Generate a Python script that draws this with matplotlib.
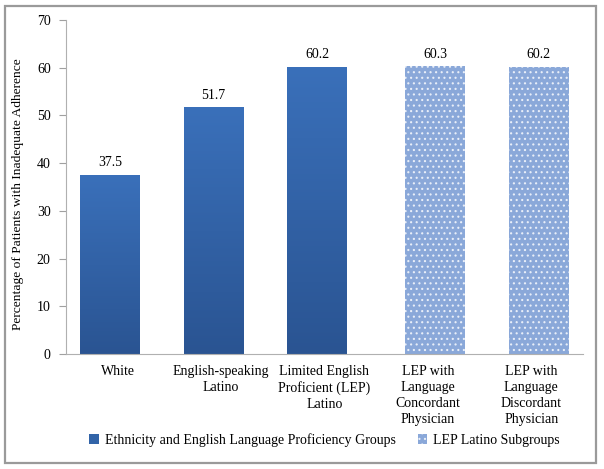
import matplotlib.pyplot as plt
from matplotlib.patches import Rectangle
import numpy as np

categories = ['White', 'English-speaking\nLatino', 'Limited English\nProficient (LEP)\nLatino',
              'LEP with\nLanguage\nConcordant\nPhysician', 'LEP with\nLanguage\nDiscordant\nPhysician']
group_names = ['Ethnicity and English Language Proficiency Groups', 'LEP Latino Subgroups']
group_values = [37.5, 51.7, 60.2]
subgroup_values = [60.3, 60.2]
y_ticks = [0, 10, 20, 30, 40, 50, 60, 70]

plt.rcParams['font.family'] = ['Liberation Serif', 'DejaVu Serif']
plt.rcParams['hatch.linewidth'] = 0.8

fig = plt.figure(figsize=(6.04, 4.69), dpi=100)
ax = fig.add_axes([0.1093, 0.2452, 0.8559, 0.7122])

# outer frame like the original image
fig.patches.append(Rectangle((0.009, 0.013), 0.977, 0.975, transform=fig.transFigure,
                             fill=False, edgecolor='#9a9a9a', linewidth=1.6))

width = 0.58
offset = 0.073
x1 = np.arange(len(group_values)) - offset
x2 = np.arange(len(group_values), len(categories)) + offset

bars1 = ax.bar(x1, group_values, width, color='#3264a8', linewidth=0, label=group_names[0])
bars2 = ax.bar(x2, subgroup_values, width, color='#8aa8d9', edgecolor='#e8eef8', hatch='...',
               linewidth=0, label=group_names[1])

# vertical gradient on the solid bars
grad = np.linspace(0, 1, 256).reshape(-1, 1)
cmap = plt.matplotlib.colors.LinearSegmentedColormap.from_list('g', ['#2a5492', '#3a70ba'])
for b in bars1:
    x0, w, h = b.get_x(), b.get_width(), b.get_height()
    im = ax.imshow(grad, extent=[x0, x0 + w, 0, h], origin='lower', cmap=cmap,
                   aspect='auto', zorder=b.get_zorder() + 0.1)
    im.set_clip_path(b)

for b in list(bars1) + list(bars2):
    ax.text(b.get_x() + b.get_width() / 2, b.get_height() + 1.2, f'{b.get_height():.1f}',
            ha='center', va='bottom', fontsize=10)

ax.set_xlim(-0.5, len(categories) - 0.5)
ax.set_ylim(0, 70)
ax.set_yticks(y_ticks)
ax.set_xticks(range(len(categories)))
ax.set_xticklabels(categories, fontsize=10, linespacing=1.3)
ax.tick_params(axis='x', length=0, pad=8)
ax.tick_params(axis='y', length=5, color='#a0a0a0', labelsize=10, pad=6)
ax.set_ylabel('Percentage of Patients with Inadequate Adherence', fontsize=9.7, labelpad=10)
ax.yaxis.set_label_coords(-0.082, 0.48)

for s in ['top', 'right']:
    ax.spines[s].set_visible(False)
for s in ['left', 'bottom']:
    ax.spines[s].set_color('#b0b0b0')

ax.legend(loc='upper center', bbox_to_anchor=(0.5, -0.2), ncol=2, frameon=False,
          fontsize=10, handlelength=0.7, handleheight=0.7, handletextpad=0.4, columnspacing=1.6)

fig.savefig('out.png', dpi=100)
